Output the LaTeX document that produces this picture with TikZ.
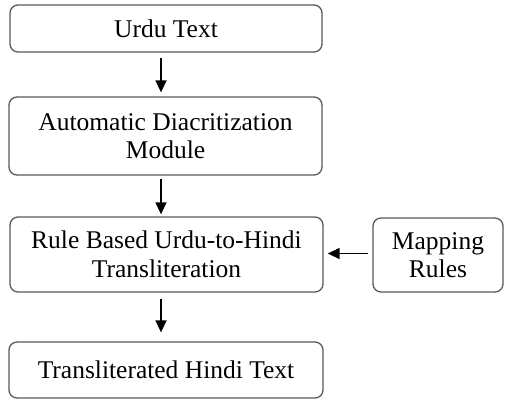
\documentclass[tikz,border=0pt]{standalone}
\usepackage{fontspec}
\setmainfont{Liberation Serif}
\usetikzlibrary{arrows.meta}
\begin{document}
\begin{tikzpicture}[x=1pt,y=-1pt,
  box/.style={draw=black!65, line width=1.3pt, rounded corners=8pt, align=center,
    font=\fontsize{25.5}{28.5}\selectfont, inner sep=0pt, fill=white},
  arr/.style={line width=1.4pt, -{Triangle[length=12pt,width=11pt]}}]
\useasboundingbox (0,0) rectangle (505,400);
\coordinate (ax) at (161,0);
\node[box, minimum width=312pt, minimum height=47pt] (u) at (166,28.5) {Urdu Text};
\node[box, minimum width=313pt, minimum height=78pt] (a) at (165.5,136) {Automatic Diacritization\\Module};
\node[box, minimum width=313pt, minimum height=75pt] (r) at (166.5,254.5) {Rule Based Urdu-to-Hindi\\Transliteration};
\node[box, minimum width=130pt, minimum height=74pt] (m) at (438,255) {Mapping\\Rules};
\node[box, minimum width=314pt, minimum height=56pt] (t) at (166,370) {Transliterated Hindi Text};
\draw[arr, shorten <=5pt, shorten >=4pt] (u.south -| ax) -- (a.north -| ax);
\draw[arr, shorten <=3pt, shorten >=2pt] (a.south -| ax) -- (r.north -| ax);
\draw[arr, shorten <=6pt, shorten >=9pt] (r.south -| ax) -- (t.north -| ax);
\draw[arr, shorten <=4pt, shorten >=4pt] ([yshift=1.5pt]m.west) -- ([yshift=1.5pt]m.west -| r.east);
\end{tikzpicture}
\end{document}
